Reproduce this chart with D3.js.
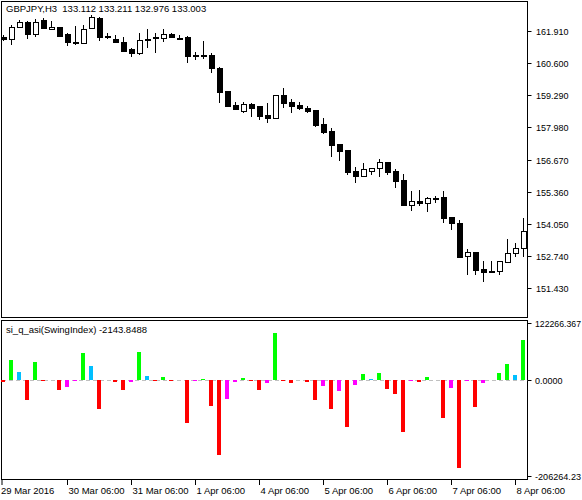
<!DOCTYPE html>
<html>
<head>
<meta charset="utf-8">
<script src="https://cdn.jsdelivr.net/npm/d3@7"></script>
<style>
  body { margin: 0; background: #fff; }
  text { font-family: "Liberation Sans", Arial, sans-serif; font-size: 9.5px; fill: #000; white-space: pre; }
  text.ax { font-size: 9px; }
</style>
</head>
<body>
<svg id="chart" width="582" height="500"></svg>
<script>
// GBPJPY H3 candles
const open  = [161.66,161.58,162.07,162.27,161.75,162.32,161.99,162.07,161.75,161.46,161.42,162.03,162.44,161.70,161.58,161.46,161.14,161.01,161.58,161.66,161.62,161.75,161.62,161.66,160.93,160.93,160.93,160.40,159.43,158.86,158.61,158.90,158.82,158.45,158.33,159.26,158.98,158.86,158.73,158.65,158.08,157.80,157.27,157.03,156.17,155.97,156.17,156.29,156.54,156.17,155.80,154.79,154.95,154.87,155.07,155.11,154.30,154.05,152.71,152.87,152.18,152.10,152.10,152.47,152.83,153.04];
const high  = [161.75,162.15,162.36,162.32,162.40,162.44,162.32,162.07,161.83,162.11,162.15,162.56,162.48,161.83,161.75,161.66,161.22,161.83,161.99,161.83,161.99,161.83,161.75,161.70,161.05,161.50,161.01,160.44,159.43,159.02,159.02,158.98,158.82,158.98,159.30,159.59,159.14,159.02,158.86,158.69,158.37,157.96,157.27,157.07,156.37,156.54,156.33,156.70,156.58,156.29,156.09,155.40,155.44,155.15,155.19,155.40,154.34,154.22,153.00,152.87,152.55,152.55,152.51,153.44,153.28,154.30];
const low   = [161.50,161.34,162.03,161.58,161.66,161.99,161.99,161.66,161.30,161.34,161.38,161.99,161.50,161.58,161.46,161.05,160.85,160.93,161.22,161.01,161.46,161.62,161.54,160.61,160.73,160.77,160.20,158.98,158.82,158.69,158.57,158.41,158.29,158.16,158.33,158.77,158.57,158.69,158.57,158.00,157.72,156.78,156.62,156.05,155.72,155.97,156.05,155.97,156.05,155.52,154.79,154.58,154.79,154.54,154.91,154.09,153.81,152.67,151.94,151.98,151.69,152.06,151.94,152.47,152.71,152.71];
const close = [161.58,162.07,162.27,161.75,162.27,162.03,162.07,161.70,161.46,161.46,161.99,162.48,161.66,161.70,161.46,161.09,161.01,161.54,161.54,161.66,161.75,161.66,161.62,160.89,160.93,160.93,160.40,159.39,158.82,158.69,158.90,158.77,158.41,158.33,159.26,158.94,158.82,158.77,158.61,158.04,157.76,157.23,156.98,156.13,155.97,156.25,156.29,156.54,156.13,155.76,154.79,154.95,154.87,155.07,155.07,154.26,154.05,152.67,152.87,152.14,152.06,152.10,152.51,152.83,153.04,153.73];

// Swing index histogram values and colour class per bar
const swing = [-5000,42000,16000,-42700,37600,-2900,0,-21000,-14500,-1500,57200,29000,-62300,-1000,-3600,-21000,-3600,59400,9400,-1500,7200,-1500,0,-92700,-1500,2900,-55700,-162200,-40500,-3600,5000,-1500,-21000,-5800,100600,-2900,-7200,-1000,-3600,-42700,-12300,-62300,-23200,-101400,-10100,13800,2900,15900,-18800,-29700,-112200,-1500,-3600,7200,0,-81800,-16700,-188200,-1500,-57900,-5800,0,15900,33300,11600,85400];
const kinds = ["r","g","b","r","g","r","_","r","m","m","g","b","r","m","r","r","m","g","b","r","g","r","_","r","m","g","r","r","m","m","g","r","r","m","g","r","r","m","r","r","m","r","m","r","m","g","b","g","r","r","r","m","r","g","_","r","m","r","m","r","m","_","g","g","b","g"];
const kindColour = { g: "#00ff00", b: "#00bfff", r: "#ff0000", m: "#ff00ff", _: "none" };

const priceTicks = [161.910, 160.600, 159.290, 157.980, 156.670, 155.360, 154.050, 152.740, 151.430];
const timeLabels = ["29 Mar 2016", "30 Mar 06:00", "31 Mar 06:00", "1 Apr 06:00", "4 Apr 06:00", "5 Apr 06:00", "6 Apr 06:00", "7 Apr 06:00", "8 Apr 06:00"];
const timeIndex  = [0, 8, 16, 24, 32, 40, 48, 56, 64];

const svg = d3.select("#chart");
const plotRight = 527.5;

const x = d3.scaleLinear().domain([0, 65]).range([3, 523]);
const y = d3.scaleLinear().domain([151.43, 161.91]).range([288, 31]);
const ys = d3.scaleLinear().domain([-206264.23, 122266.367]).range([476, 323]);

// panel frames
svg.append("rect").attr("x", 1.5).attr("y", 1.5).attr("width", plotRight - 1.5).attr("height", 316)
  .attr("fill", "none").attr("stroke", "#000");
svg.append("rect").attr("x", 1.5).attr("y", 320.5).attr("width", plotRight - 1.5).attr("height", 159)
  .attr("fill", "none").attr("stroke", "#000");

// candles
const idx = d3.range(open.length);
const cg = svg.append("g").attr("shape-rendering", "crispEdges");
cg.selectAll("line.wick").data(idx).join("line")
  .attr("x1", i => Math.round(x(i)) + 0.5).attr("x2", i => Math.round(x(i)) + 0.5)
  .attr("y1", i => y(high[i])).attr("y2", i => y(low[i]))
  .attr("stroke", "#000");
cg.selectAll("rect.body").data(idx).join("rect")
  .attr("x", i => Math.round(x(i)) - 2).attr("width", 5)
  .attr("y", i => y(Math.max(open[i], close[i])))
  .attr("height", i => Math.max(1, Math.abs(y(open[i]) - y(close[i]))))
  .attr("fill", i => close[i] >= open[i] && Math.abs(y(open[i]) - y(close[i])) > 1.5 ? "#fff" : "#000")
  .attr("stroke", "#000").attr("stroke-width", 1);

// price axis
priceTicks.forEach(p => {
  const yy = Math.round(y(p)) + 0.5;
  svg.append("line").attr("x1", plotRight).attr("x2", plotRight + 4).attr("y1", yy).attr("y2", yy).attr("stroke", "#000");
  svg.append("text").attr("class", "ax").attr("x", 536).attr("y", yy + 3.5).text(p.toFixed(3));
});

// swing index histogram
svg.append("line").attr("x1", 2).attr("x2", plotRight).attr("y1", Math.round(ys(0)) + 0.5).attr("y2", Math.round(ys(0)) + 0.5)
  .attr("stroke", "#c0c0c0").attr("stroke-width", 1).attr("stroke-dasharray", "4,3");
svg.append("g").attr("shape-rendering", "crispEdges").selectAll("rect").data(idx).join("rect")
  .attr("x", i => Math.round(x(i)) - 2).attr("width", 4)
  .attr("y", i => Math.min(ys(0), ys(swing[i])))
  .attr("height", i => Math.abs(ys(swing[i]) - ys(0)))
  .attr("fill", i => kindColour[kinds[i]]);

[[122266.367, "122266.367"], [0, "0.0000"], [-206264.23, "-206264.23"]].forEach(([v, t]) => {
  const yy = Math.round(ys(v)) + 0.5;
  svg.append("line").attr("x1", plotRight).attr("x2", plotRight + 4).attr("y1", yy).attr("y2", yy).attr("stroke", "#000");
  svg.append("text").attr("class", "ax").attr("x", 535).attr("y", yy + 3.5)
    .attr("textLength", t.length > 8 ? 46 : null).attr("lengthAdjust", "spacingAndGlyphs").text(t);
});

// time axis
timeIndex.forEach((i, k) => {
  const xx = k === 0 ? 2 : Math.round(x(i)) + 0.5;
  svg.append("line").attr("x1", xx).attr("x2", xx).attr("y1", 480).attr("y2", 485).attr("stroke", "#000");
  svg.append("text").attr("x", k === 0 ? 1 : xx + 1).attr("y", 494).text(timeLabels[k]);
});

// captions
svg.append("text").attr("x", 6).attr("y", 12).text("GBPJPY,H3  133.112 133.211 132.976 133.003");
svg.append("text").attr("x", 6).attr("y", 333).text("si_q_asi(SwingIndex) -2143.8488");
</script>
</body>
</html>
